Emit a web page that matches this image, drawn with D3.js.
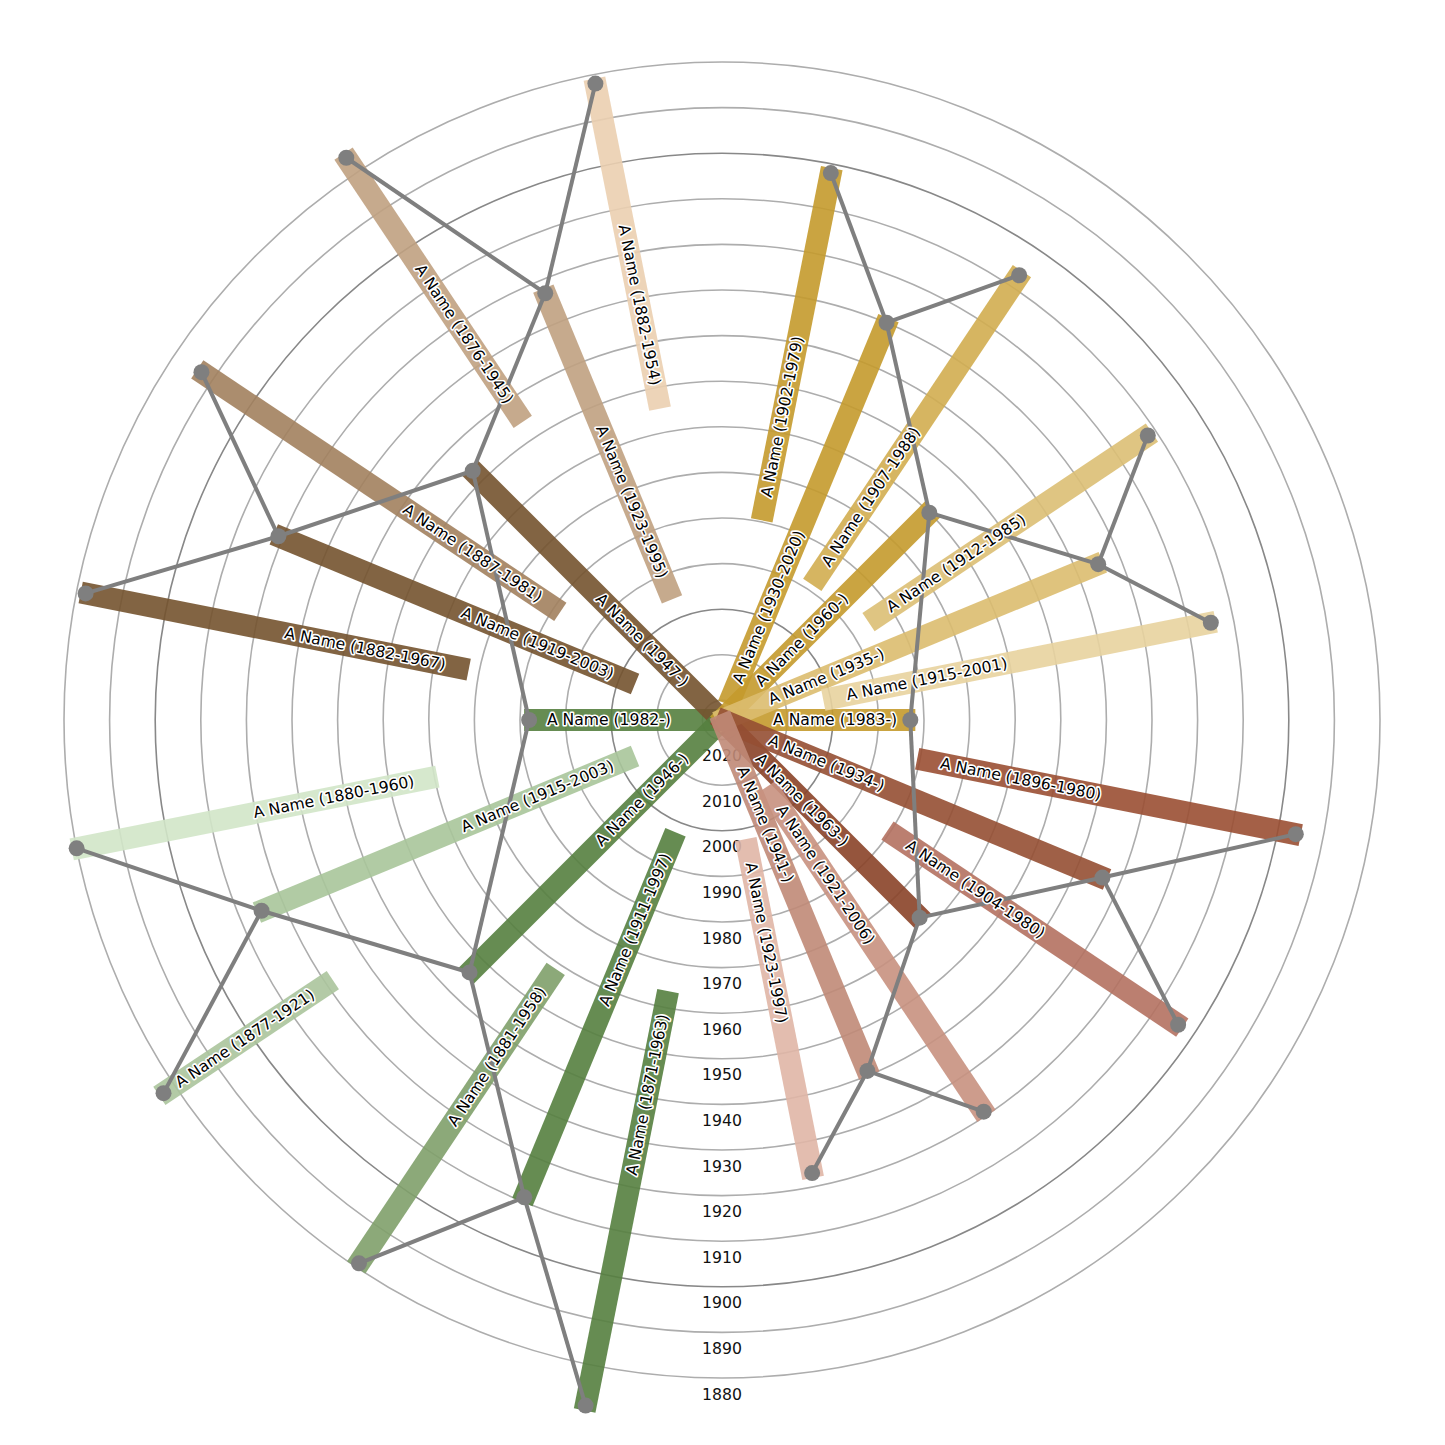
<!DOCTYPE html>
<html>
<head>
<meta charset="utf-8">
<script src="https://cdn.jsdelivr.net/npm/d3@7"></script>
<style>
  body { margin: 0; background: #fff; }
  svg { display: block; }
  text { font-family: "DejaVu Sans", sans-serif; }
</style>
</head>
<body>
<svg id="chart" width="1445" height="1445"></svg>
<script>
// people in generation order: 0-1 couple, 2-5 parents, 6-13 grandparents, 14-29 great-grandparents
const births = [1982, 1983, 1947, 1946, 1960, 1963, 1919, 1923, 1915, 1911, 1930, 1935, 1934, 1941,
    1882, 1887, 1876, 1882, 1880, 1877, 1881, 1871, 1902, 1907, 1912, 1915, 1896, 1904, 1921, 1923]
const deaths = [null, null, null, null, null, null, 2003, 1995, 2003, 1997, 2020, null, null, null,
    1967, 1981, 1945, 1954, 1960, 1921, 1958, 1963, 1979, 1988, 1985, 2001, 1980, 1980, 2006, 1997]
// index of the child each person is a parent of
const childOf = [-1, -1, 0, 0, 1, 1, 2, 2, 3, 3, 4, 4, 5, 5,
    6, 6, 7, 7, 8, 8, 9, 9, 10, 10, 11, 11, 12, 12, 13, 13]
// polar angle of each branch, degrees counter-clockwise from the right
const angles = [180, 0, 135, 225, 45, 315, 157.5, 112.5, 202.5, 247.5, 67.5, 22.5, 337.5, 292.5,
    168.75, 146.25, 123.75, 101.25, 191.25, 213.75, 236.25, 258.75,
    78.75, 56.25, 33.75, 11.25, 348.75, 326.25, 303.75, 281.25]
const colors = ["#55803f", "#c49a2c", "#74532f", "#55803f", "#c49a2c", "#8a4228", "#74532f", "#c0a181",
    "#a8c59a", "#55803f", "#c49a2c", "#dbbd6f", "#954f33", "#c08a77",
    "#74532f", "#a2815e", "#c0a181", "#ebcfb0", "#d2e6c8", "#abc49c", "#7fa06a", "#55803f",
    "#c49a2c", "#d2ad50", "#dcbf74", "#e8d39f", "#9a4f33", "#b47160", "#c8917f", "#e0b6a6"]
const currentYear = 2022
const gridYears = d3.range(1880, 2021, 10)

const cx = 722, cy = 720

const svg = d3.select("#chart")
const g = svg.append("g").attr("transform", "translate(" + cx + "," + cy + ")")

const r = d3.scaleLinear()
    .domain([2024.3, 1880])
    .range([0, 658])

const rad = a => a * Math.PI / 180
const px = (a, rr) => rr * Math.cos(rad(a))
const py = (a, rr) => -rr * Math.sin(rad(a))

// grid rings
g.append("g").selectAll("circle")
    .data(gridYears)
    .enter()
    .append("circle")
    .attr("r", d => r(d))
    .attr("fill", "none")
    .attr("stroke", d => (d === 1900 || d === 2000) ? "#888" : "#adadad")
    .attr("stroke-width", 1.6)

// ring labels
g.append("g").selectAll("text")
    .data(gridYears)
    .enter()
    .append("text")
    .attr("x", 0)
    .attr("y", d => r(d) + 16)
    .attr("text-anchor", "middle")
    .attr("dominant-baseline", "central")
    .style("font-size", "15.7px")
    .style("fill", "#111")
    .text(d => d)

const people = births.map((b, i) => ({
    i: i,
    birth: b,
    death: deaths[i],
    angle: angles[i],
    color: colors[i],
    child: childOf[i],
    label: "A Name (" + b + "-" + (deaths[i] === null ? "" : deaths[i]) + ")"
}))

// life bars
g.append("g").selectAll("line")
    .data(people)
    .enter()
    .append("line")
    .attr("x1", d => px(d.angle, r(d.birth) + 5))
    .attr("y1", d => py(d.angle, r(d.birth) + 5))
    .attr("x2", d => px(d.angle, d.death === null ? -6 : r(d.death) - 3))
    .attr("y2", d => py(d.angle, d.death === null ? -6 : r(d.death) - 3))
    .attr("stroke", d => d.color)
    .attr("stroke-width", 22)
    .attr("stroke-opacity", 0.9)

// parent links
g.append("g").selectAll("line")
    .data(people.filter(d => d.child >= 0))
    .enter()
    .append("line")
    .attr("x1", d => px(d.angle, r(d.birth)))
    .attr("y1", d => py(d.angle, r(d.birth)))
    .attr("x2", d => px(people[d.child].angle, r(people[d.child].birth)))
    .attr("y2", d => py(people[d.child].angle, r(people[d.child].birth)))
    .attr("stroke", "#7f7f7f")
    .attr("stroke-width", 4)

g.append("g").selectAll("circle")
    .data(people)
    .enter()
    .append("circle")
    .attr("cx", d => px(d.angle, r(d.birth)))
    .attr("cy", d => py(d.angle, r(d.birth)))
    .attr("r", 8)
    .attr("fill", "#7f7f7f")

// name labels, centred a bit outside the end of each bar
g.append("g").selectAll("text")
    .data(people)
    .enter()
    .append("text")
    .attr("transform", d => {
        const end = d.death === null ? currentYear : d.death
        const rr = r(end - 22.5)
        const rot = Math.cos(rad(d.angle)) < 0 ? 180 - d.angle : -d.angle
        return "translate(" + px(d.angle, rr) + "," + py(d.angle, rr) + ") rotate(" + rot + ")"
    })
    .attr("text-anchor", "middle")
    .attr("dominant-baseline", "central")
    .style("font-size", "15.6px")
    .style("fill", "#000")
    .style("stroke", "#fff")
    .style("stroke-width", 3.2)
    .style("stroke-linejoin", "round")
    .style("paint-order", "stroke")
    .text(d => d.label)
</script>
</body>
</html>
